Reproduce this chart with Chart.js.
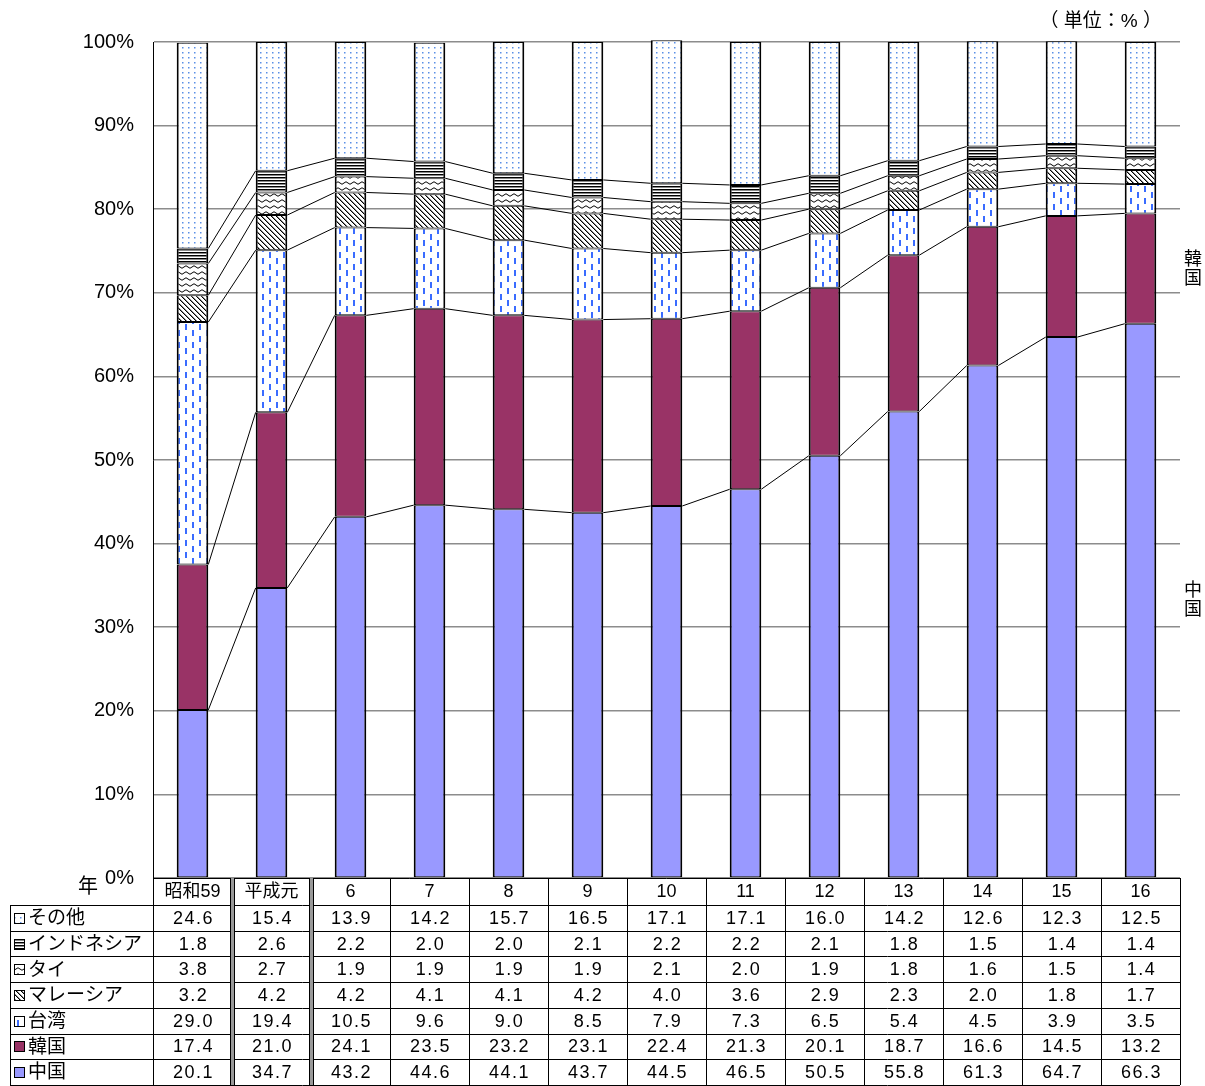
<!DOCTYPE html>
<html>
<head>
<meta charset="utf-8">
<script src="https://cdn.jsdelivr.net/npm/chart.js@4.4.0/dist/chart.umd.min.js"></script>
<style>
  body { margin: 0; background: #fff; }
  #wrap { width: 1205px; height: 1086px; position: relative; }
</style>
</head>
<body>
<div id="wrap"><canvas id="shareChart"></canvas></div>
<script>
const years = ['昭和59', '平成元', '6', '7', '8', '9', '10', '11', '12', '13', '14', '15', '16'];

const china     = [20.1, 34.7, 43.2, 44.6, 44.1, 43.7, 44.5, 46.5, 50.5, 55.8, 61.3, 64.7, 66.3];
const korea     = [17.4, 21.0, 24.1, 23.5, 23.2, 23.1, 22.4, 21.3, 20.1, 18.7, 16.6, 14.5, 13.2];
const taiwan    = [29.0, 19.4, 10.5, 9.6, 9.0, 8.5, 7.9, 7.3, 6.5, 5.4, 4.5, 3.9, 3.5];
const malaysia  = [3.2, 4.2, 4.2, 4.1, 4.1, 4.2, 4.0, 3.6, 2.9, 2.3, 2.0, 1.8, 1.7];
const thailand  = [3.8, 2.7, 1.9, 1.9, 1.9, 1.9, 2.1, 2.0, 1.9, 1.8, 1.6, 1.5, 1.4];
const indonesia = [1.8, 2.6, 2.2, 2.0, 2.0, 2.1, 2.2, 2.2, 2.1, 1.8, 1.5, 1.4, 1.4];
const others    = [24.6, 15.4, 13.9, 14.2, 15.7, 16.5, 17.1, 17.1, 16.0, 14.2, 12.6, 12.3, 12.5];

const yTicks = [0, 10, 20, 30, 40, 50, 60, 70, 80, 90, 100];

const FONT = '"Liberation Sans", Arial, "Noto Sans CJK JP", sans-serif';

function makePattern(w, h, draw) {
    const c = document.createElement('canvas');
    c.width = w;
    c.height = h;
    const g = c.getContext('2d');
    g.fillStyle = '#fff';
    g.fillRect(0, 0, w, h);
    draw(g);
    return g.createPattern(c, 'repeat');
}

// その他: small blue dots
const dotFill = makePattern(6, 5, g => {
    g.fillStyle = '#5a8fe6';
    g.fillRect(2, 2, 1.5, 1.5);
});

// 台湾: staggered blue dashes
const dashFill = makePattern(14, 12, g => {
    g.fillStyle = '#3a6cff';
    g.fillRect(3, 0, 2, 6);
    g.fillRect(10, 6, 2, 6);
});

// マレーシア: diagonal hatch
const hatchFill = makePattern(5, 5, g => {
    g.fillStyle = '#000';
    for (let i = 0; i < 5; i++) {
        g.fillRect(i, i, 1, 1);
    }
    g.fillStyle = '#888';
    for (let i = 0; i < 5; i++) {
        g.fillRect((i + 1) % 5, i, 1, 1);
    }
});

// タイ: wavy lines
const waveFill = makePattern(8, 6, g => {
    g.strokeStyle = '#000';
    g.lineWidth = 1;
    g.beginPath();
    g.moveTo(0, 3);
    g.quadraticCurveTo(2, 0.5, 4, 3);
    g.quadraticCurveTo(6, 5.5, 8, 3);
    g.stroke();
});

// インドネシア: horizontal lines
const lineFill = makePattern(4, 3, g => {
    g.fillStyle = '#000';
    g.fillRect(0, 0, 4, 1);
    g.fillStyle = '#888';
    g.fillRect(0, 1, 4, 1);
});

const datasets = [
    { label: '中国', data: china, backgroundColor: '#9999ff' },
    { label: '韓国', data: korea, backgroundColor: '#993366' },
    { label: '台湾', data: taiwan, backgroundColor: dashFill },
    { label: 'マレーシア', data: malaysia, backgroundColor: hatchFill },
    { label: 'タイ', data: thailand, backgroundColor: waveFill },
    { label: 'インドネシア', data: indonesia, backgroundColor: lineFill },
    { label: 'その他', data: others, backgroundColor: dotFill }
].map(d => Object.assign(d, {
    borderColor: '#000',
    borderWidth: { top: 1, bottom: 1, left: 2, right: 2 },
    borderSkipped: false,
    barPercentage: 0.4,
    categoryPercentage: 1,
    clip: false
}));

// table rows, top to bottom
const tableRows = [6, 5, 4, 3, 2, 1, 0];

// straight lines joining segment tops between neighbouring bars
const seriesLines = {
    id: 'seriesLines',
    afterDatasetsDraw(chart) {
        const ctx = chart.ctx;
        ctx.save();
        ctx.strokeStyle = '#000';
        ctx.lineWidth = 1;
        for (let d = 0; d < 6; d++) {
            const meta = chart.getDatasetMeta(d);
            for (let i = 0; i < meta.data.length - 1; i++) {
                const a = meta.data[i];
                const b = meta.data[i + 1];
                ctx.beginPath();
                ctx.moveTo(a.x + a.width / 2, a.y);
                ctx.lineTo(b.x - b.width / 2, b.y);
                ctx.stroke();
            }
        }
        ctx.restore();
    }
};

const dataTable = {
    id: 'dataTable',
    afterDraw(chart) {
        const ctx = chart.ctx;
        const xs = chart.scales.x;
        const area = chart.chartArea;
        const half = (xs.getPixelForValue(1) - xs.getPixelForValue(0)) / 2;
        const top = area.bottom;
        const headH = 27;
        const rowH = (chart.height - 1 - top - headH) / 7;
        const bodyTop = top + headH;
        const bottom = chart.height - 1;
        const leftX = 10;

        ctx.save();
        ctx.strokeStyle = '#000';
        ctx.lineWidth = 1;

        // horizontal lines
        ctx.beginPath();
        ctx.moveTo(area.left, top + 0.5);
        ctx.lineTo(area.right, top + 0.5);
        for (let r = 0; r <= 7; r++) {
            const y = Math.round(bodyTop + r * rowH) + 0.5;
            ctx.moveTo(leftX, Math.min(y, bottom + 0.5));
            ctx.lineTo(area.right, Math.min(y, bottom + 0.5));
        }
        ctx.moveTo(leftX + 0.5, bodyTop);
        ctx.lineTo(leftX + 0.5, bottom);
        ctx.stroke();

        // vertical lines
        for (let i = 0; i <= years.length; i++) {
            const x = Math.round(xs.getPixelForValue(i) - half);
            if (i === 1 || i === 2) {
                ctx.fillStyle = '#999';
                ctx.fillRect(x - 1, top, 3, bottom - top);
                ctx.fillStyle = '#000';
                ctx.fillRect(x - 2, top, 1, bottom - top);
                ctx.fillRect(x + 2, top, 1, bottom - top);
            } else {
                ctx.beginPath();
                ctx.moveTo(x + 0.5, top);
                ctx.lineTo(x + 0.5, bottom);
                ctx.stroke();
            }
        }

        ctx.fillStyle = '#000';
        ctx.textAlign = 'center';
        ctx.textBaseline = 'middle';
        ctx.font = '18px ' + FONT;

        // header
        years.forEach((y, i) => {
            ctx.fillText(y, xs.getPixelForValue(i), top + headH / 2 + 1);
        });

        // body
        ctx.letterSpacing = '1.5px';
        tableRows.forEach((d, r) => {
            const ds = chart.data.datasets[d];
            const cy = bodyTop + r * rowH + rowH / 2 + 1;
            ds.data.forEach((v, i) => {
                ctx.fillText(v.toFixed(1), xs.getPixelForValue(i) + 1, cy);
            });
        });
        ctx.letterSpacing = '0px';

        // row labels with legend boxes
        ctx.textAlign = 'left';
        ctx.font = '19px ' + FONT;
        tableRows.forEach((d, r) => {
            const ds = chart.data.datasets[d];
            const cy = bodyTop + r * rowH + rowH / 2 + 1;
            ctx.fillStyle = ds.backgroundColor;
            ctx.fillRect(14, Math.round(cy - 6), 11, 11);
            ctx.strokeStyle = '#000';
            ctx.strokeRect(14.5, Math.round(cy - 6) + 0.5, 10, 10);
            ctx.fillStyle = '#000';
            ctx.fillText(ds.label, 28, cy);
        });

        // 年 label and unit
        ctx.font = '20px ' + FONT;
        ctx.textAlign = 'center';
        ctx.fillText('年', 88, top + 9);
        ctx.font = '19px ' + FONT;
        ctx.textAlign = 'right';
        ctx.fillText('（ 単位：% ）', 1162, 22);

        // vertical series names on the right
        ctx.textAlign = 'center';
        ctx.font = '18px ' + FONT;
        [1, 0].forEach(d => {
            const meta = chart.getDatasetMeta(d);
            const el = meta.data[meta.data.length - 1];
            const cy = (el.y + el.base) / 2;
            const name = chart.data.datasets[d].label;
            ctx.fillText(name[0], 1193, cy - 9);
            ctx.fillText(name[1], 1193, cy + 10);
        });

        ctx.restore();
    }
};

const ctx = document.getElementById('shareChart').getContext('2d');

new Chart(ctx, {
    type: 'bar',
    data: {
        labels: years,
        datasets: datasets
    },
    options: {
        responsive: true,
        maintainAspectRatio: false,
        animation: false,
        layout: {
            padding: { left: 0, right: 25, top: 42, bottom: 208 }
        },
        plugins: {
            legend: { display: false },
            tooltip: { enabled: false }
        },
        scales: {
            x: {
                stacked: true,
                display: false
            },
            y: {
                stacked: true,
                min: 0,
                max: 100,
                afterFit(scale) {
                    scale.width = 153;
                },
                afterBuildTicks(scale) {
                    scale.ticks = yTicks.map(v => ({ value: v }));
                },
                ticks: {
                    padding: 19,
                    color: '#000',
                    font: { family: FONT, size: 20 },
                    callback: v => v + '%'
                },
                grid: {
                    color: '#8c8c8c',
                    lineWidth: 1.5,
                    drawTicks: false
                },
                border: {
                    display: true,
                    color: '#000',
                    width: 1
                }
            }
        }
    },
    plugins: [seriesLines, dataTable]
});
</script>
</body>
</html>
